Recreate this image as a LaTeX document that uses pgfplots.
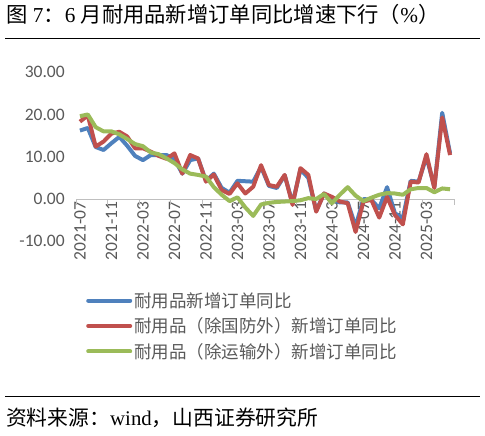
\documentclass[border=0pt]{standalone}
\usepackage{fontspec}
\setmainfont{Liberation Serif}
\newfontfamily\cjk{Noto Sans CJK SC}
\newfontfamily\calib{Carlito}
\usepackage{pgfplots}
\usepackage{pgfplotstable}
\pgfplotsset{compat=1.18}
\definecolor{cblue}{HTML}{4F81BD}
\definecolor{cred}{HTML}{C0504D}
\definecolor{cgreen}{HTML}{9BBB59}
\definecolor{txtgray}{HTML}{595959}
\definecolor{axgray}{HTML}{BFBFBF}

\pgfplotstableread{
i blue red green
0 16.2 18.3 19.6
1 16.8 19.8 20.0
2 12.3 12.4 17.0
3 11.6 13.6 16.0
4 13.2 15.5 16.0
5 14.7 15.9 15.3
6 12.6 14.8 14.2
7 10.2 12.0 13.0
8 9.2 12.0 12.5
9 10.4 11.2 11.0
10 10.4 10.2 10.6
11 10.4 9.5 9.6
12 9.5 10.8 8.5
13 6.0 6.0 7.0
14 9.2 10.4 6.0
15 9.6 9.6 5.7
16 4.3 4.1 5.3
17 6.0 5.8 2.8
18 2.6 2.1 1.0
19 1.5 1.2 -0.5
20 4.3 3.7 0.4
21 4.2 1.3 -2.0
22 4.1 2.9 -4.0
23 7.6 8.0 -1.3
24 3.1 3.3 -0.9
25 2.6 2.9 -0.7
26 5.6 5.7 -0.6
27 -1.0 -1.4 -0.5
28 7.0 7.3 -0.3
29 5.0 5.7 0.2
30 -2.8 -3.0 0.0
31 1.3 1.3 1.2
32 -0.3 0.5 -1.0
33 -0.8 -0.6 1.0
34 -0.8 -1.0 2.8
35 -6.5 -7.8 0.8
36 0.0 -0.6 -0.5
37 -0.2 -0.2 0.3
38 -2.2 -4.4 1.0
39 2.8 0.5 1.4
40 -3.4 -3.8 1.3
41 -4.5 -6.0 1.0
42 4.3 4.1 2.3
43 4.1 3.9 2.6
44 10.0 10.6 2.6
45 2.8 2.6 1.6
46 20.4 19.3 2.5
47 10.8 10.4 2.3
}\data

\begin{document}
\begin{tikzpicture}[x=1bp,y=1bp]
\path[use as bounding box] (0,0) rectangle (485,436);
\node[anchor=west, inner sep=0pt, font=\fontsize{21.3bp}{25bp}\selectfont] at (6,422) {{\cjk 图} 7{\cjk ：}6 {\cjk 月耐用品新增订单同比增速下行（}\%{\cjk ）}};
\draw[line width=0.8bp] (5,398) -- (480,398);
\draw[line width=0.8bp] (5,40) -- (480,40);
\node[anchor=west, inner sep=0pt, font=\fontsize{20.8bp}{24bp}\selectfont] at (6,18) {{\cjk 资料来源：}wind{\cjk ，山西证券研究所}};
\begin{axis}[
  at={(79.94bp,237bp)}, anchor=origin,
  scale only axis, width=378bp, height=169bp,
  xmin=-0.5, xmax=47.5, ymin=-10, ymax=30,
  axis x line=middle, axis y line=left,
  x axis line style={draw=axgray, line width=0.8bp, -},
  y axis line style={draw=none},
  xtick={0,4,...,44},
  xticklabels={2021-07,2021-11,2022-03,2022-07,2022-11,2023-03,2023-07,2023-11,2024-03,2024-07,2024-11,2025-03},
  major x tick style={draw=none},
  extra x ticks={-0.5,3.5,...,47.5},
  extra x tick labels={},
  extra x tick style={tick align=outside, major tick length=6bp, major x tick style={draw=axgray, line width=0.8bp}},
  ytick={-10,0,10,20,30},
  yticklabels={-10.00,0.00,10.00,20.00,30.00},
  major y tick style={draw=none},
  tick label style={font=\calib\fontsize{17.5bp}{20bp}\selectfont, text=txtgray},
  xticklabel style={rotate=90, anchor=east, inner sep=2bp, xshift=1.5bp},
  yticklabel style={anchor=east, inner sep=2bp, xshift=-7bp},
  legend style={at={(axis description cs:0.0265,-0.29)}, anchor=north west, draw=none, fill=none,
    font=\cjk\fontsize{17.5bp}{21bp}\selectfont, text=txtgray, row sep=5bp, inner sep=0pt},
  legend cell align=left,
  legend image code/.code={\draw[#1, line width=4bp, line cap=round] (0bp,0bp) -- (42bp,0bp);},
  clip=false,
]
\addplot[cblue, line width=4bp, line join=round] table[x=i,y=blue]{\data};
\addlegendentry{耐用品新增订单同比}
\addplot[cred, line width=4bp, line join=round] table[x=i,y=red]{\data};
\addlegendentry{耐用品（除国防外）新增订单同比}
\addplot[cgreen, line width=4bp, line join=round] table[x=i,y=green]{\data};
\addlegendentry{耐用品（除运输外）新增订单同比}
\end{axis}
\end{tikzpicture}
\end{document}
